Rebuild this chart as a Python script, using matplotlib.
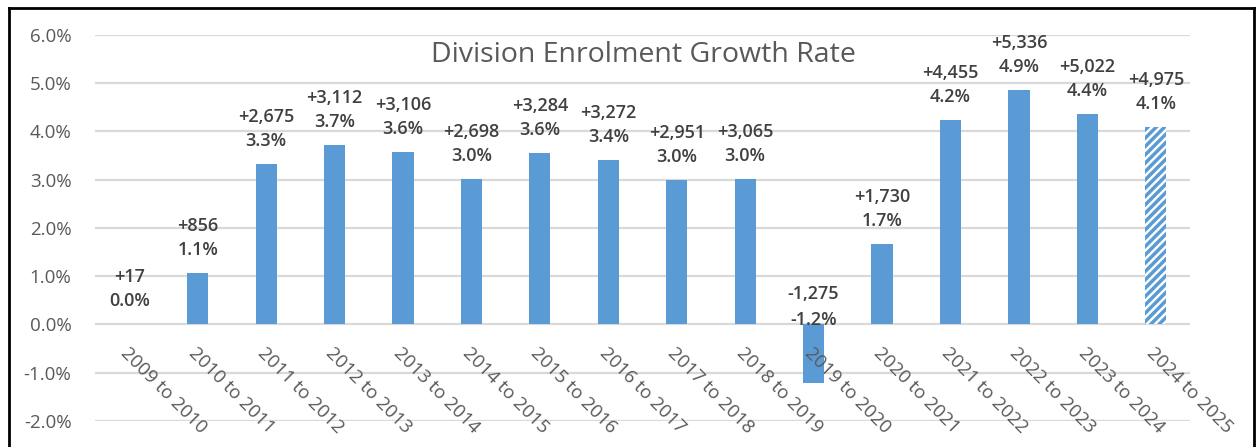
import matplotlib.pyplot as plt
import matplotlib.lines as mlines

plt.rcParams['font.family'] = ['Open Sans', 'DejaVu Sans']
plt.rcParams['hatch.linewidth'] = 2.5

periods = ['2009 to 2010', '2010 to 2011', '2011 to 2012', '2012 to 2013',
           '2013 to 2014', '2014 to 2015', '2015 to 2016', '2016 to 2017',
           '2017 to 2018', '2018 to 2019', '2019 to 2020', '2020 to 2021',
           '2021 to 2022', '2022 to 2023', '2023 to 2024', '2024 to 2025']
growth_pct = [0.02, 1.06, 3.32, 3.73, 3.57, 3.02, 3.56, 3.41,
              2.99, 3.02, -1.22, 1.66, 4.23, 4.87, 4.36, 4.09]
growth_count = ['+17', '+856', '+2,675', '+3,112', '+3,106', '+2,698', '+3,284', '+3,272',
                '+2,951', '+3,065', '-1,275', '+1,730', '+4,455', '+5,336', '+5,022', '+4,975']
projected = [False] * 15 + [True]

blue = '#5B9BD5'
grid = '#D9D9D9'
txt = '#595959'
lbl = '#404040'

fig = plt.figure(figsize=(12.57, 4.47), dpi=100)
ax = fig.add_axes([0.0756, 0.0582, 0.8711, 0.8635])

x = list(range(len(periods)))
for i in x:
    if projected[i]:
        ax.bar(i, growth_pct[i], width=0.31, color='white', edgecolor=blue,
               hatch='////', linewidth=0, zorder=3)
    else:
        ax.bar(i, growth_pct[i], width=0.31, color=blue, linewidth=0, zorder=3)

for i in x:
    top = max(growth_pct[i], 0)
    if growth_pct[i] < 0:
        off1, off2 = 4, 30
    else:
        off1, off2 = 23, 47
    ax.annotate(f'{growth_pct[i]:.1f}%', (i, top), xytext=(0, off1),
                textcoords='offset pixels', ha='center', va='center',
                fontsize=13, fontweight='semibold', color=lbl, zorder=4)
    ax.annotate(growth_count[i], (i, top), xytext=(0, off2),
                textcoords='offset pixels', ha='center', va='center',
                fontsize=13, fontweight='semibold', color=lbl, zorder=4)

ax.set_xlim(-0.5, len(periods) - 0.5)
ax.set_ylim(-2.0, 6.0)
ax.set_yticks(range(-2, 7))
ax.set_yticklabels([f'{v:.1f}%' for v in range(-2, 7)], fontsize=13.5, color=txt)
ax.tick_params(axis='y', length=0, pad=17)
ax.yaxis.grid(True, color=grid, linewidth=1.6, zorder=0)
ax.set_axisbelow(True)
for s in ax.spines.values():
    s.set_visible(False)

ax.set_xticks(x)
ax.set_xticklabels([])
ax.tick_params(axis='x', length=0)
for i in x:
    ax.annotate(periods[i], (i, 0), xytext=(-6, -26), textcoords='offset pixels',
                rotation=-45, rotation_mode='anchor', ha='left', va='center',
                fontsize=13.5, color=txt, zorder=5)

fig.text(0.512, 0.877, 'Division Enrolment Growth Rate', ha='center', va='center',
         fontsize=20.5, color=txt)

# frame around the chart
y_top = 1 - 8 / 447
x_left = 8.5 / 1257
x_right = 1 - 3 / 1257
for xs, ys in [([x_left, x_left], [0, y_top]), ([x_left, x_right], [y_top, y_top]),
               ([x_right, x_right], [0, y_top])]:
    fig.add_artist(mlines.Line2D(xs, ys, color='black', linewidth=2))

fig.savefig('out.png', dpi=100)
